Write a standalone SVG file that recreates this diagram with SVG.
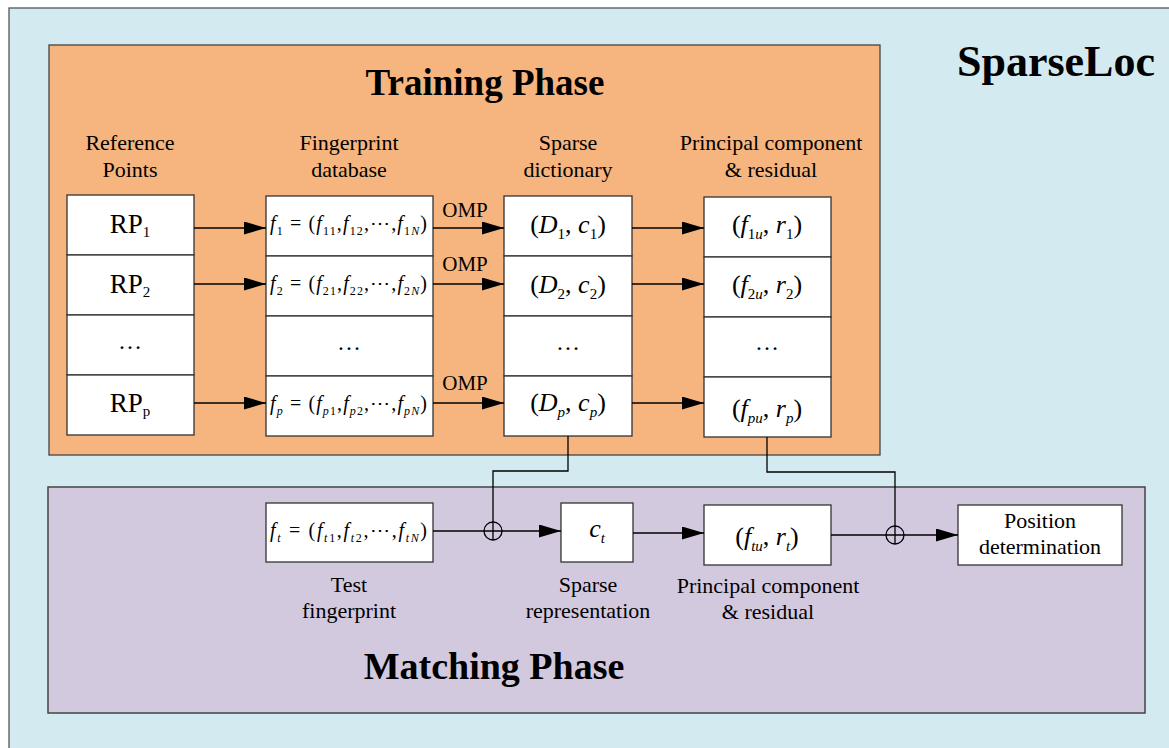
<svg xmlns="http://www.w3.org/2000/svg" width="1169" height="748" viewBox="0 0 1169 748" font-family="'Liberation Serif', 'Times New Roman', serif">
<defs>
<marker id="ah" markerUnits="userSpaceOnUse" markerWidth="24" markerHeight="14" refX="22" refY="6.5" orient="auto"><path d="M0,0 L22,6.5 L0,13 z" fill="#000"/></marker>
<style>
text{font-family:'Liberation Serif','Times New Roman',serif;fill:#000}
.t{font-family:'Liberation Serif','Times New Roman',serif;font-size:22px;text-anchor:middle}
.h{font-family:'Liberation Serif','Times New Roman',serif;font-size:38px;font-weight:bold;text-anchor:middle}
.box{fill:#fff;stroke:#333;stroke-width:1.3}
.m{font-family:'Liberation Serif','Times New Roman',serif;font-size:20px}
.mb{font-family:'Liberation Serif','Times New Roman',serif;font-size:26px;text-anchor:middle}
.i{font-style:italic}
.s{font-size:12px}
.sb{font-size:15px}
.c{fill:none;stroke:#000;stroke-width:1.3}
.a{fill:none;stroke:#000;stroke-width:1.3;marker-end:url(#ah)}
</style>
</defs>
<rect x="9" y="8" width="1175" height="760" fill="#D2EAF0" stroke="#555" stroke-width="1.3"/>
<g id="training-phase">
<rect x="49" y="45" width="831" height="410" fill="#F6B57F" stroke="#444" stroke-width="1.3"/>
<text class="h" x="485" y="95" style="font-size:37px">Training Phase</text>
</g>
<g id="matching-phase">
<rect x="48" y="487" width="1097" height="226" fill="#D3C9DF" stroke="#444" stroke-width="1.5"/>
<text class="h" x="494" y="679">Matching Phase</text>
</g>
<text id="title" class="h" x="1056" y="76" style="font-size:44px">SparseLoc</text>

<g id="headers">
<text class="t" x="130" y="150">Reference</text><text class="t" x="130" y="177">Points</text>
<text class="t" x="349" y="150">Fingerprint</text><text class="t" x="349" y="177">database</text>
<text class="t" x="568" y="150">Sparse</text><text class="t" x="568" y="177">dictionary</text>
<text class="t" x="771" y="150">Principal component</text><text class="t" x="771" y="177">&amp; residual</text>
</g>

<g id="reference-points">
<rect class="box" x="67" y="195" width="127" height="60"/>
<rect class="box" x="67" y="255" width="127" height="60"/>
<rect class="box" x="67" y="315" width="127" height="60"/>
<rect class="box" x="67" y="375" width="127" height="60"/>
<text class="t" x="130" y="233" style="font-size:27px">RP<tspan class="sb" dy="4">1</tspan></text>
<text class="t" x="130" y="293" style="font-size:27px">RP<tspan class="sb" dy="4">2</tspan></text>
<text class="t" x="130" y="349" style="font-size:24px">…</text>
<text class="t" x="130" y="412" style="font-size:27px">RP<tspan class="sb" dy="4">p</tspan></text>
</g>

<g id="fingerprint-database">
<rect class="box" x="266" y="196" width="167" height="60"/>
<rect class="box" x="266" y="256" width="167" height="60"/>
<rect class="box" x="266" y="316" width="167" height="60"/>
<rect class="box" x="266" y="376" width="167" height="60"/>
<text class="m" x="270" y="230" textLength="157" lengthAdjust="spacing"><tspan class="i">f</tspan><tspan class="s" dy="5">1</tspan><tspan dy="-5"> = (</tspan><tspan class="i">f</tspan><tspan class="s" dy="5">11</tspan><tspan dy="-5">,</tspan><tspan class="i">f</tspan><tspan class="s" dy="5">12</tspan><tspan dy="-5">,⋯,</tspan><tspan class="i">f</tspan><tspan class="s" dy="5">1<tspan class="i">N</tspan></tspan><tspan dy="-5">)</tspan></text>
<text class="m" x="270" y="290" textLength="157" lengthAdjust="spacing"><tspan class="i">f</tspan><tspan class="s" dy="5">2</tspan><tspan dy="-5"> = (</tspan><tspan class="i">f</tspan><tspan class="s" dy="5">21</tspan><tspan dy="-5">,</tspan><tspan class="i">f</tspan><tspan class="s" dy="5">22</tspan><tspan dy="-5">,⋯,</tspan><tspan class="i">f</tspan><tspan class="s" dy="5">2<tspan class="i">N</tspan></tspan><tspan dy="-5">)</tspan></text>
<text class="t" x="349" y="350" style="font-size:24px">…</text>
<text class="m" x="270" y="410" textLength="157" lengthAdjust="spacing"><tspan class="i">f</tspan><tspan class="s i" dy="5">p</tspan><tspan dy="-5"> = (</tspan><tspan class="i">f</tspan><tspan class="s" dy="5"><tspan class="i">p</tspan>1</tspan><tspan dy="-5">,</tspan><tspan class="i">f</tspan><tspan class="s" dy="5"><tspan class="i">p</tspan>2</tspan><tspan dy="-5">,⋯,</tspan><tspan class="i">f</tspan><tspan class="s i" dy="5">pN</tspan><tspan dy="-5">)</tspan></text>
</g>

<g id="sparse-dictionary">
<rect class="box" x="504" y="196" width="128" height="60"/>
<rect class="box" x="504" y="256" width="128" height="60"/>
<rect class="box" x="504" y="316" width="128" height="60"/>
<rect class="box" x="504" y="376" width="128" height="60"/>
<text class="mb" x="568" y="233">(<tspan class="i">D</tspan><tspan class="sb" dy="6">1</tspan><tspan dy="-6">, </tspan><tspan class="i">c</tspan><tspan class="sb" dy="6">1</tspan><tspan dy="-6">)</tspan></text>
<text class="mb" x="568" y="293">(<tspan class="i">D</tspan><tspan class="sb" dy="6">2</tspan><tspan dy="-6">, </tspan><tspan class="i">c</tspan><tspan class="sb" dy="6">2</tspan><tspan dy="-6">)</tspan></text>
<text class="t" x="568" y="350" style="font-size:24px">…</text>
<text class="mb" x="568" y="411">(<tspan class="i">D</tspan><tspan class="sb i" dy="6">p</tspan><tspan dy="-6">, </tspan><tspan class="i">c</tspan><tspan class="sb i" dy="6">p</tspan><tspan dy="-6">)</tspan></text>
</g>

<g id="principal-component">
<rect class="box" x="704" y="197" width="127" height="60"/>
<rect class="box" x="704" y="257" width="127" height="60"/>
<rect class="box" x="704" y="317" width="127" height="60"/>
<rect class="box" x="704" y="377" width="127" height="60"/>
<text class="mb" x="767" y="233">(<tspan class="i">f</tspan><tspan class="sb" dy="6">1<tspan class="i">u</tspan></tspan><tspan dy="-6">, </tspan><tspan class="i">r</tspan><tspan class="sb" dy="6">1</tspan><tspan dy="-6">)</tspan></text>
<text class="mb" x="767" y="293">(<tspan class="i">f</tspan><tspan class="sb" dy="6">2<tspan class="i">u</tspan></tspan><tspan dy="-6">, </tspan><tspan class="i">r</tspan><tspan class="sb" dy="6">2</tspan><tspan dy="-6">)</tspan></text>
<text class="t" x="767" y="350" style="font-size:24px">…</text>
<text class="mb" x="767" y="417">(<tspan class="i">f</tspan><tspan class="sb i" dy="6">pu</tspan><tspan dy="-6">, </tspan><tspan class="i">r</tspan><tspan class="sb i" dy="6">p</tspan><tspan dy="-6">)</tspan></text>
</g>

<g id="omp-labels">
<text class="t" x="465" y="217" style="font-size:21px">OMP</text>
<text class="t" x="465" y="271" style="font-size:21px">OMP</text>
<text class="t" x="465" y="390" style="font-size:21px">OMP</text>
</g>

<g id="test-fingerprint">
<rect class="box" x="266" y="503" width="167" height="59"/>
<text class="m" x="270" y="537" textLength="157" lengthAdjust="spacing"><tspan class="i">f</tspan><tspan class="s i" dy="5">t</tspan><tspan dy="-5"> = (</tspan><tspan class="i">f</tspan><tspan class="s" dy="5"><tspan class="i">t</tspan>1</tspan><tspan dy="-5">,</tspan><tspan class="i">f</tspan><tspan class="s" dy="5"><tspan class="i">t</tspan>2</tspan><tspan dy="-5">,⋯,</tspan><tspan class="i">f</tspan><tspan class="s i" dy="5">tN</tspan><tspan dy="-5">)</tspan></text>
<text class="t" x="349" y="592">Test</text><text class="t" x="349" y="618">fingerprint</text>
</g>

<g id="sparse-representation">
<rect class="box" x="561" y="503" width="72" height="59"/>
<text class="mb" x="597" y="537"><tspan class="i">c</tspan><tspan class="sb i" dy="6">t</tspan></text>
<text class="t" x="588" y="592">Sparse</text><text class="t" x="588" y="618">representation</text>
</g>

<g id="principal-test">
<rect class="box" x="704" y="505" width="127" height="60"/>
<text class="mb" x="767" y="545">(<tspan class="i">f</tspan><tspan class="sb i" dy="6">tu</tspan><tspan dy="-6">, </tspan><tspan class="i">r</tspan><tspan class="sb i" dy="6">t</tspan><tspan dy="-6">)</tspan></text>
<text class="t" x="768" y="593">Principal component</text><text class="t" x="768" y="619">&amp; residual</text>
</g>

<g id="position-determination">
<rect class="box" x="958" y="505" width="164" height="60"/>
<text class="t" x="1040" y="528">Position</text><text class="t" x="1040" y="554">determination</text>
</g>

<g id="connectors">
<line class="a" x1="194" y1="228" x2="266" y2="228"/>
<line class="a" x1="194" y1="284" x2="266" y2="284"/>
<line class="a" x1="194" y1="403" x2="266" y2="403"/>
<line class="a" x1="433" y1="228" x2="504" y2="228"/>
<line class="a" x1="433" y1="284" x2="504" y2="284"/>
<line class="a" x1="433" y1="403" x2="504" y2="403"/>
<line class="a" x1="632" y1="228" x2="704" y2="228"/>
<line class="a" x1="632" y1="284" x2="704" y2="284"/>
<line class="a" x1="632" y1="403" x2="704" y2="403"/>
<path class="c" d="M568,436 V471 H493 V540"/>
<circle class="c" cx="493" cy="531" r="9"/>
<line class="a" x1="433" y1="531" x2="561" y2="531"/>
<line class="a" x1="633" y1="533" x2="704" y2="533"/>
<path class="c" d="M767,437 V472 H895 V544"/>
<circle class="c" cx="895" cy="535" r="9"/>
<line class="a" x1="831" y1="535" x2="958" y2="535"/>
</g>
</svg>
